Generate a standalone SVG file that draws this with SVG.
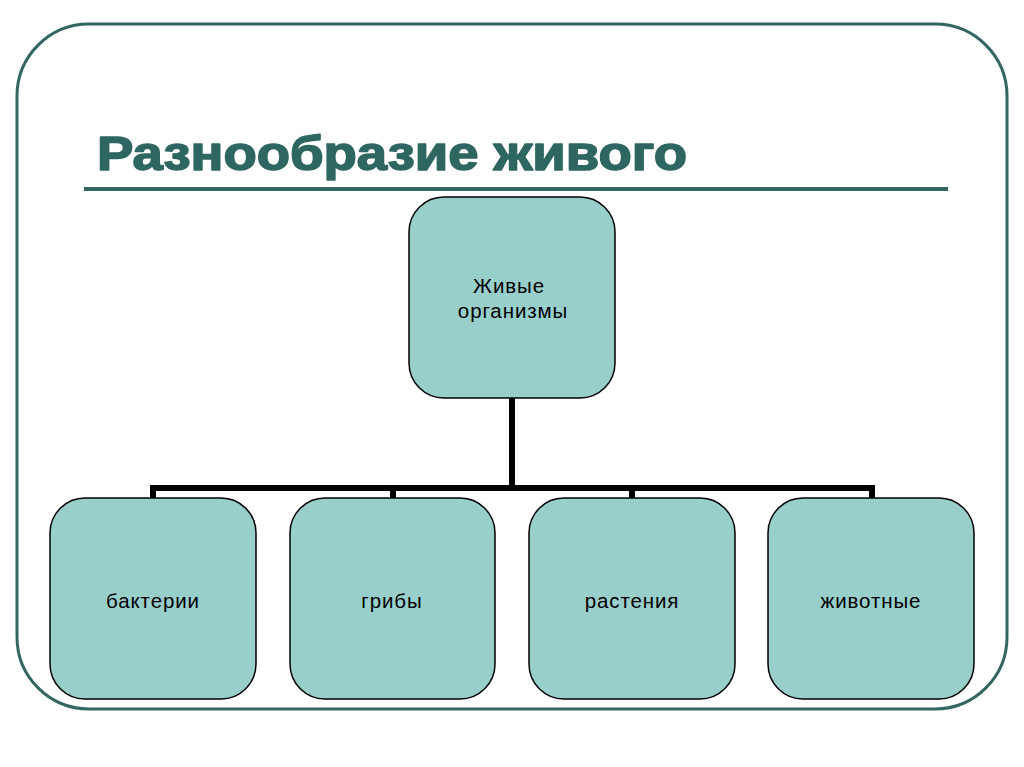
<svg xmlns="http://www.w3.org/2000/svg" width="1024" height="767" viewBox="0 0 1024 767">
<style>
.node{fill:#99cfcb;stroke:#000;stroke-width:1.5}
.lbl{font-family:"Liberation Sans",Arial,sans-serif;font-size:20.5px;letter-spacing:0.9px;fill:#000;text-anchor:middle}
.conn{fill:none;stroke:#000;stroke-width:6;stroke-linecap:square}
</style>
<rect x="0" y="0" width="1024" height="767" fill="#fff"/>
<rect x="17" y="24" width="990" height="685" rx="72" ry="72" fill="none" stroke="#336660" stroke-width="3"/>
<text x="97" y="170" font-family="'Liberation Sans',Arial,sans-serif" font-weight="bold" font-size="49" fill="#2e6661" stroke="#2e6661" stroke-width="1.6" stroke-linejoin="round" textLength="590" lengthAdjust="spacingAndGlyphs">Разнообразие живого</text>
<rect x="84" y="187" width="864" height="4" fill="#336660"/>
<g id="connectors">
<path class="conn" d="M512 400 V488 M153 488 H872 M153 488 V496 M393 488 V496 M632 488 V496 M872 488 V496"/>
</g>
<g id="root">
<rect class="node" x="409" y="197" width="206" height="201" rx="35"/>
<text class="lbl" x="509" y="293">Живые</text>
<text class="lbl" x="513" y="318">организмы</text>
</g>
<g id="bacteria">
<rect class="node" x="50" y="498" width="206" height="201" rx="35"/>
<text class="lbl" x="153" y="608">бактерии</text>
</g>
<g id="fungi">
<rect class="node" x="290" y="498" width="205" height="201" rx="35"/>
<text class="lbl" x="392" y="608">грибы</text>
</g>
<g id="plants">
<rect class="node" x="529" y="498" width="206" height="201" rx="35"/>
<text class="lbl" x="632" y="608">растения</text>
</g>
<g id="animals">
<rect class="node" x="768" y="498" width="206" height="201" rx="35"/>
<text class="lbl" x="871" y="608">животные</text>
</g>
</svg>
